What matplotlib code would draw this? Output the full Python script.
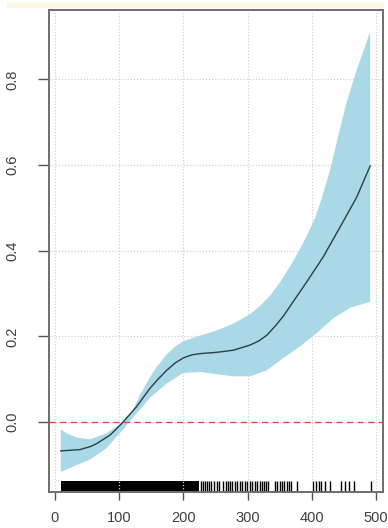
"""
plot.py - courbe lissee avec intervalle de confiance et rug
"""

import numpy as np
import matplotlib
matplotlib.use("Agg")
import matplotlib.pyplot as plt
from matplotlib.patches import Rectangle

plt.rcParams.update({
    "font.family": ["Liberation Sans", "DejaVu Sans"],
    "font.size":   10,
})

# courbe ajustee
fit_x = [9, 20, 39, 55, 65, 86, 106, 127, 148, 161, 174, 187, 200, 213, 226,
         252, 278, 304, 318, 330, 343, 356, 366, 376, 392, 418, 444, 470, 491]
fit_y = [-0.067, -0.066, -0.064, -0.057, -0.050, -0.030, 0.000, 0.036, 0.079,
         0.101, 0.121, 0.138, 0.150, 0.157, 0.160, 0.163, 0.168, 0.180, 0.190,
         0.203, 0.224, 0.248, 0.270, 0.292, 0.327, 0.386, 0.455, 0.525, 0.598]

# borne superieure
up_x = [9, 18, 34, 55, 80, 101, 122, 132, 148, 158, 174, 187, 200, 226, 252,
        278, 304, 320, 335, 350, 366, 382, 394, 405, 415, 428, 440, 454, 470,
        491]
up_y = [-0.017, -0.026, -0.036, -0.040, -0.026, -0.005, 0.030, 0.062, 0.105,
        0.128, 0.158, 0.176, 0.189, 0.202, 0.214, 0.230, 0.252, 0.272, 0.295,
        0.325, 0.363, 0.405, 0.440, 0.476, 0.520, 0.585, 0.660, 0.745, 0.822,
        0.911]

# borne inferieure
lo_x = [9, 28, 55, 80, 101, 127, 148, 174, 200, 226, 252, 278, 304, 330,
        356, 382, 407, 434, 460, 491]
lo_y = [-0.116, -0.104, -0.087, -0.061, -0.026, 0.020, 0.057, 0.090, 0.115,
        0.117, 0.112, 0.107, 0.107, 0.121, 0.150, 0.177, 0.207, 0.243, 0.267,
        0.281]

# rug : zone dense puis observations isolees
rug_dense = (9, 224)
rug_x = [228, 231, 234, 237, 240, 243, 248, 252, 256, 262, 266, 270, 272,
         276, 280, 284, 288, 292, 296, 299, 304, 307, 311, 315, 320, 323, 326,
         329, 332, 342, 346, 350, 354, 357, 361, 365, 368, 377, 402, 407, 412,
         415, 420, 428, 445, 452, 458, 466, 492]

x_ticks = [0, 100, 200, 300, 400, 500]
y_ticks = [0.0, 0.2, 0.4, 0.6, 0.8]

BAND = "#a9d9e6"
LINE = "#2c3e46"
GRID = "#d2d2d2"

fig = plt.figure(figsize=(3.88, 5.28), dpi=100)
ax = fig.add_axes([49 / 388, 36 / 528, 334 / 388, 482 / 528])

# bande creme en haut de la capture
fig.patches.append(Rectangle((7 / 388, 1 - 7 / 528), 376 / 388, 4 / 528,
                             transform=fig.transFigure, color="#fdf6e4",
                             zorder=0))

rug_h = 0.023
ax.axvspan(rug_dense[0], rug_dense[1], ymin=0, ymax=rug_h, color="black",
           lw=0, zorder=1)
ax.vlines(rug_x, 0, rug_h, transform=ax.get_xaxis_transform(),
          color="black", lw=1, zorder=1)

for xv in x_ticks:
    ax.axvline(xv, color=GRID, lw=0.9, ls=(0, (1, 1.5)), zorder=1.5)
for yv in y_ticks:
    ax.axhline(yv, color=GRID, lw=0.9, ls=(0, (1, 1.5)), zorder=1.5)

band_x = np.concatenate([up_x, lo_x[::-1]])
band_y = np.concatenate([up_y, lo_y[::-1]])
ax.fill(band_x, band_y, color=BAND, lw=0, zorder=2)

ax.plot(fit_x, fit_y, color=LINE, lw=1.0, zorder=3)
ax.axhline(0, color="#d9453e", lw=0.9, ls=(0, (5, 3.5)), zorder=4)

ax.set_xlim(-9.3, 511)
ax.set_ylim(-0.163, 0.962)

ax.set_xticks(x_ticks)
ax.set_xticklabels([str(v) for v in x_ticks])
ax.set_yticks(y_ticks)
ax.set_yticklabels([f"{v:.1f}" for v in y_ticks], rotation=90, va="center")

ax.tick_params(axis="x", length=6, width=1, color="#555555",
               labelcolor="#404040", labelsize=10.5, pad=8)
ax.tick_params(axis="y", length=8, width=1, color="#555555",
               labelcolor="#404040", labelsize=10.5, pad=13)

for sp in ax.spines.values():
    sp.set_color("#6e6e6e")
    sp.set_linewidth(1.4)

fig.savefig("out.png", dpi=100)
